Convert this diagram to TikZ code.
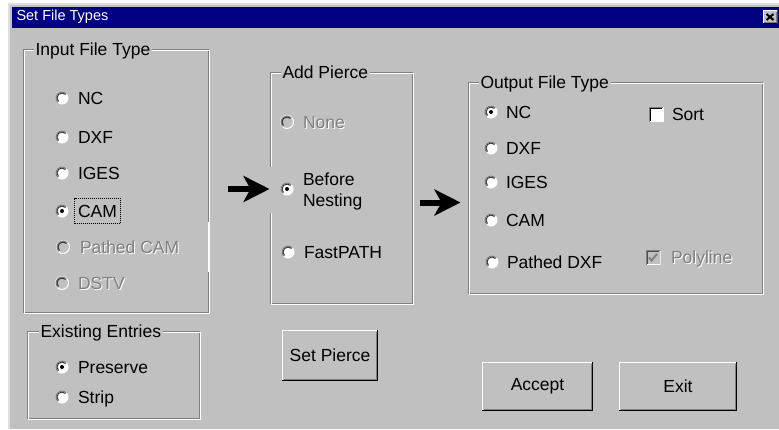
\documentclass[tikz,border=0pt]{standalone}
\usepackage{fontspec}
\setmainfont{Liberation Sans}
\usepackage{xcolor}
\usetikzlibrary{arrows.meta, positioning, fit}
\definecolor{winbg}{HTML}{C0C0C0}
\definecolor{etch}{HTML}{808080}
\definecolor{titlebar}{HTML}{000080}
\newcommand{\uifont}{\fontsize{17.5}{21}\selectfont}
\newcommand{\capfont}{\fontsize{14.5}{17}\selectfont}
\tikzstyle{bigarrow} = [line width=6pt, -{Stealth[length=26pt, width=26pt, inset=7pt]}]

\begin{document}
\begin{tikzpicture}[x=1pt, y=1pt, line width=1pt]
    \tikzstyle{grpbox} = [rectangle, draw=etch, inner sep=0, outer sep=0]
    \tikzstyle{grptitle} = [fill=winbg, font=\uifont, inner xsep=2pt, inner ysep=0, text height=12.2pt, text depth=0pt, anchor=west]
    \tikzstyle{lbl} = [font=\uifont, inner sep=0, text height=12.2pt, text depth=0pt, anchor=west]
    \tikzstyle{dimlbl} = [lbl, text=etch]
    \tikzstyle{shdlbl} = [lbl, text=white, xshift=1pt, yshift=-1pt]
    \tikzstyle{radio} = [circle, minimum size=13pt, inner sep=0pt, outer sep=0pt, fill=white]
    \tikzstyle{radiooff} = [radio, fill=winbg, draw=white]
    \tikzstyle{chkbox} = [rectangle, minimum size=15pt, inner sep=0, outer sep=0, fill=white, path picture={
        \draw[etch] ([shift={(0.5,0.5)}]path picture bounding box.south west) |- ([shift={(-0.5,-0.5)}]path picture bounding box.north east);
        \draw[black] ([shift={(1.5,1.5)}]path picture bounding box.south west) |- ([shift={(-1.5,-1.5)}]path picture bounding box.north east);}]
    \tikzstyle{chkoff} = [chkbox, fill=winbg, path picture={
        \draw[white] ([shift={(0.5,0.5)}]path picture bounding box.south west) -| ([shift={(-0.5,-0.5)}]path picture bounding box.north east);
        \draw[etch] ([shift={(0.5,0.5)}]path picture bounding box.south west) |- ([shift={(-0.5,-0.5)}]path picture bounding box.north east);
        \draw[black!70] ([shift={(1.5,1.5)}]path picture bounding box.south west) |- ([shift={(-1.5,-1.5)}]path picture bounding box.north east);}]
    \tikzstyle{btn} = [rectangle, fill=winbg, inner sep=0, outer sep=0, font=\uifont, path picture={
        \draw[white] ([shift={(0.5,1)}]path picture bounding box.south west) -- ([shift={(0.5,-0.5)}]path picture bounding box.north west) -- ([shift={(-1,-0.5)}]path picture bounding box.north east);
        \draw[black] ([shift={(0,0.5)}]path picture bounding box.south west) -- ([shift={(-0.5,0.5)}]path picture bounding box.south east) -- ([shift={(-0.5,0)}]path picture bounding box.north east);
        \draw[etch] ([shift={(1.5,1.5)}]path picture bounding box.south west) -- ([shift={(-1.5,1.5)}]path picture bounding box.south east) -- ([shift={(-1.5,-1.5)}]path picture bounding box.north east);}]

    % window
    \useasboundingbox (0,0) rectangle (779,-429);
    \fill[white] (0,0) rectangle (779,-429);
    \fill[winbg!50!white] (8,-3) rectangle (779,-429);
    \fill[winbg] (10,-5) rectangle (779,-429);
    \node[fill=titlebar, minimum width=768pt, minimum height=21pt, inner sep=0, anchor=north west] (titleBar) at (11,-6) {};
    \node[anchor=west, text=white, font=\capfont, inner sep=0] (titleText) at ([xshift=5pt]titleBar.west) {Set File Types};
    \node[btn, minimum width=15pt, minimum height=14pt] (closeBtn) at ([xshift=-10pt]titleBar.east) {};
    \draw[line width=2pt] ([shift={(-3.5,-3)}]closeBtn.center) -- ([shift={(3.5,3)}]closeBtn.center);
    \draw[line width=2pt] ([shift={(-3.5,3)}]closeBtn.center) -- ([shift={(3.5,-3)}]closeBtn.center);

    % group frames
    \node[grpbox, minimum width=185pt, minimum height=263pt] (inBox) at (116,-181) {};
    \node[grpbox, minimum width=172pt, minimum height=87pt] (exBox) at (113.5,-375) {};
    \node[grpbox, minimum width=142pt, minimum height=231pt] (apBox) at (341.5,-188) {};
    \node[grpbox, minimum width=294pt, minimum height=211pt] (outBox) at (615.5,-188) {};
    \draw[white] ([shift={(1,-1)}]inBox.north west) rectangle ([shift={(1,-1)}]inBox.south east);
    \draw[white] ([shift={(1,-1)}]exBox.north west) rectangle ([shift={(1,-1)}]exBox.south east);
    \draw[white] ([shift={(1,-1)}]apBox.north west) rectangle ([shift={(1,-1)}]apBox.south east);
    \draw[white] ([shift={(1,-1)}]outBox.north west) rectangle ([shift={(1,-1)}]outBox.south east);
    \fill[white] (207.5,-222) rectangle (209.5,-272);
    \fill[winbg] (268,-167) rectangle (273,-213);
    \node[grptitle] (inTitle) at (33,-49.5) {Input File Type};
    \node[grptitle] (exTitle) at (38,-331.5) {Existing Entries};
    \node[grptitle] (apTitle) at (280,-72.5) {Add Pierce};
    \node[grptitle] (outTitle) at (478,-82.5) {Output File Type};

    % input file type
    \node[radio] (inNC) at (62,-98) {};
    \node[radio] (inDXF) at (62,-137) {};
    \node[radio] (inIGES) at (62,-173) {};
    \node[radio] (inCAM) at (62,-211) {};
    \node[radiooff] (inPCAM) at (63,-247) {};
    \node[radiooff] (inDSTV) at (62,-283) {};
    \node[lbl, right=9pt of inNC] (inNCt) {NC};
    \node[lbl, right=9pt of inDXF] (inDXFt) {DXF};
    \node[lbl, right=9pt of inIGES] (inIGESt) {IGES};
    \node[lbl, right=9pt of inCAM] (inCAMt) {CAM};
    \node[shdlbl, right=10pt of inPCAM] (inPCAMs) {Pathed CAM};
    \node[dimlbl, right=10pt of inPCAM] (inPCAMt) {Pathed CAM};
    \node[shdlbl, right=9pt of inDSTV] (inDSTVs) {DSTV};
    \node[dimlbl, right=9pt of inDSTV] (inDSTVt) {DSTV};
    \node[draw, densely dotted, fit=(inCAMt), inner xsep=3pt, inner ysep=6pt] (focus) {};

    % existing entries
    \node[radio] (exPRE) at (62,-367) {};
    \node[radio] (exSTR) at (62,-397) {};
    \node[lbl, right=9pt of exPRE] (exPREt) {Preserve};
    \node[lbl, right=9pt of exSTR] (exSTRt) {Strip};

    % add pierce
    \node[radiooff] (apNONE) at (287,-122) {};
    \node[radio] (apBN) at (287,-189) {};
    \node[radio] (apFP) at (288,-252) {};
    \node[shdlbl, right=9pt of apNONE] (apNONEs) {None};
    \node[dimlbl, right=9pt of apNONE] (apNONEt) {None};
    \node[font=\uifont, align=left, inner sep=0, anchor=west, right=9pt of apBN, yshift=-2pt] (apBNt) {Before\\Nesting};
    \node[lbl, right=9pt of apFP] (apFPt) {FastPATH};

    % output file type
    \node[radio] (outNC) at (491,-112) {};
    \node[radio] (outDXF) at (491,-148) {};
    \node[radio] (outIGES) at (491,-182) {};
    \node[radio] (outCAM) at (491,-220) {};
    \node[radio] (outPDXF) at (492,-262) {};
    \node[lbl, right=8pt of outNC] (outNCt) {NC};
    \node[lbl, right=8pt of outDXF] (outDXFt) {DXF};
    \node[lbl, right=8pt of outIGES] (outIGESt) {IGES};
    \node[lbl, right=8pt of outCAM] (outCAMt) {CAM};
    \node[lbl, right=8pt of outPDXF] (outPDXFt) {Pathed DXF};
    \node[chkbox] (sortBox) at (656,-114.5) {};
    \node[lbl, right=8pt of sortBox] (sortt) {Sort};
    \node[chkoff] (polyBox) at (653,-257.5) {};
    \draw[etch, line width=2pt] ([shift={(-4,0)}]polyBox.center) -- ([shift={(-1.5,-3)}]polyBox.center) -- ([shift={(4,3.5)}]polyBox.center);
    \node[shdlbl, right=10pt of polyBox] (polys) {Polyline};
    \node[dimlbl, right=10pt of polyBox] (polyt) {Polyline};

    % radio bevels
    \foreach \r in {inNC, inDXF, inIGES, inCAM, inPCAM, inDSTV, exPRE, exSTR, apNONE, apBN, apFP, outNC, outDXF, outIGES, outCAM, outPDXF} {
        \draw[etch] (\r.center) ++(45:6pt) arc[start angle=45, end angle=225, radius=6pt];
        \draw[black!80] (\r.center) ++(45:5pt) arc[start angle=45, end angle=225, radius=5pt];
    }
    % selected radios
    \foreach \r in {inCAM, exPRE, apBN, outNC}
        \fill (\r.center) circle[radius=2pt];

    % arrows
    \draw[bigarrow] ([xshift=19pt]inBox.east |- apBN.center) -- ([xshift=-1pt]apBox.west |- apBN.center);
    \draw[bigarrow] ([shift={(7pt,-14.5pt)}]apBox.east) -- ([shift={(-8pt,-14.5pt)}]outBox.west);

    % buttons
    \node[btn, minimum width=96pt, minimum height=51pt] (setPierce) at (330,-355.5) {Set Pierce};
    \node[btn, minimum width=111pt, minimum height=49pt] (accept) at (537.5,-386.5) {Accept};
    \node[btn, minimum width=118pt, minimum height=49pt] (exit) at (678,-386.5) {Exit};
\end{tikzpicture}
\end{document}
